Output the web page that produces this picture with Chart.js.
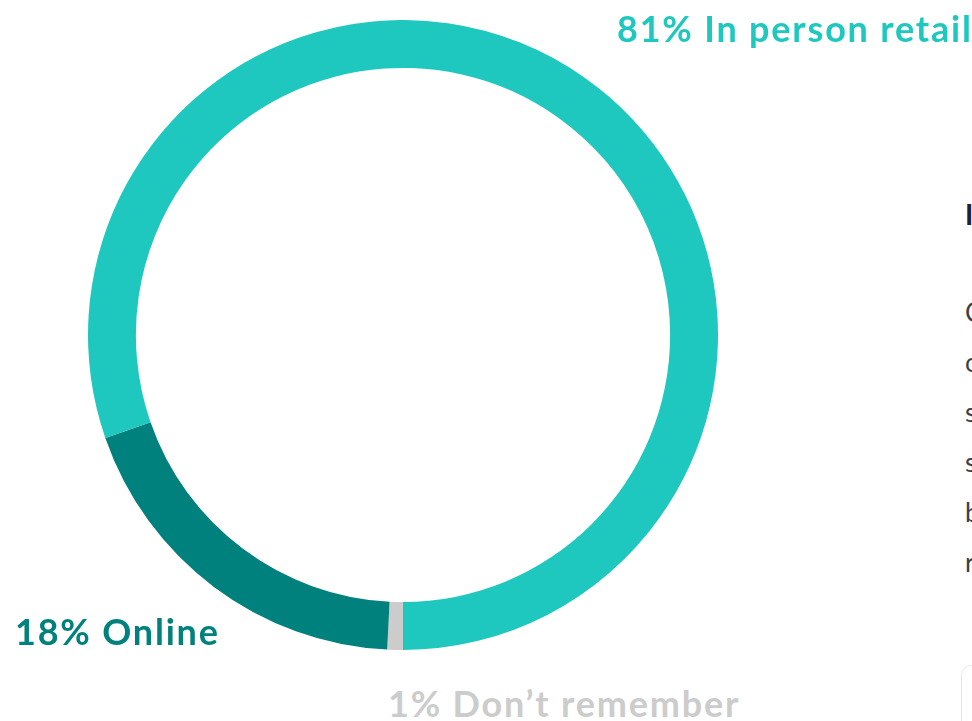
<!DOCTYPE html>
<html>
<head>
<meta charset="utf-8">
<script src="https://cdn.jsdelivr.net/npm/chart.js@4"></script>
<style>
  html, body { margin: 0; padding: 0; background: #fff; }
  body { width: 972px; height: 721px; position: relative; overflow: hidden; font-family: "Lato", sans-serif; }
  #wrap { position: absolute; left: 88px; top: 20px; width: 630px; height: 630px; }
  .lbl { position: absolute; font-weight: 700; font-size: 36px; letter-spacing: 1.8px; white-space: nowrap; line-height: 1; }
  #titulo { position: absolute; left: 965px; top: 200px; margin: 0; font-size: 28px; line-height: 1; color: #1b2238; font-weight: 700; white-space: nowrap; }
  #texto { position: absolute; left: 965px; top: 287px; margin: 0; font-size: 26px; line-height: 50px; color: #3a3f4a; white-space: nowrap; }
  #card { position: absolute; left: 961px; top: 665px; width: 300px; height: 200px; border: 1px solid #e6e6e6; border-radius: 10px; }
</style>
</head>
<body>
<div id="wrap"><canvas id="grafico"></canvas></div>
<h3 id="titulo">In store or online?</h3>
<p id="texto">Consumers<br>overwhelmingly<br>still<br>shop<br>by<br>retail</p>
<div id="card"></div>
<script>
// dados do grafico (ordem no sentido horario a partir de baixo)
const categorias = ["Don\u2019t remember", "Online", "In person retail"];
const valores = [0.8, 18.9, 80.3]; // tamanho dos arcos
const rotulosPct = ["1%", "18%", "81%"]; // texto mostrado
const cores = ["#cccccc", "#00817d", "#1ec8be"];
// onde cada rotulo fica na pagina
const posRotulos = [
  { left: 388, top: 685 },
  { left: 15, top: 613 },
  { left: 617, top: 10 }
];

const data = {
  labels: categorias,
  datasets: [{
    data: valores,
    backgroundColor: cores,
    borderWidth: 0,
    hoverOffset: 0
  }]
};

const config = {
  type: 'doughnut',
  data: data,
  options: {
    responsive: true,
    maintainAspectRatio: false,
    animation: false,
    rotation: 180,
    cutout: '84.8%',
    layout: { padding: 0 },
    plugins: {
      legend: { display: false },
      tooltip: { enabled: false }
    }
  }
};

const myChart = new Chart(document.getElementById('grafico'), config);

// rotulos em texto
categorias.forEach((cat, i) => {
  const div = document.createElement('div');
  div.className = 'lbl';
  div.textContent = rotulosPct[i] + ' ' + cat;
  div.style.color = cores[i];
  div.style.left = posRotulos[i].left + 'px';
  div.style.top = posRotulos[i].top + 'px';
  document.body.appendChild(div);
});
</script>
</body>
</html>
